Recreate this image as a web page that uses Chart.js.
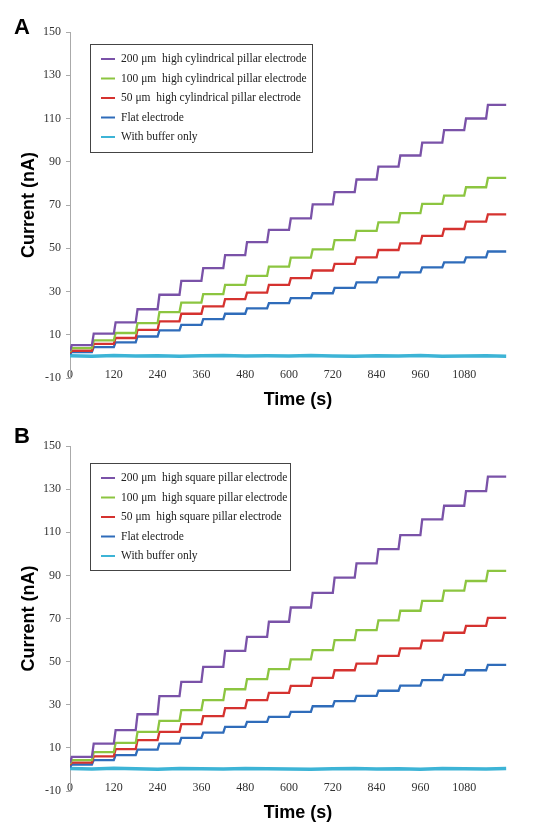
<!DOCTYPE html>
<html><head><meta charset="utf-8">
<script src="https://cdn.jsdelivr.net/npm/chart.js@4/dist/chart.umd.min.js"></script>
<style>
html,body{margin:0;padding:0;background:#fff;width:543px;height:835px;overflow:hidden}
.wrap{position:absolute;left:0;width:543px}
#wa{top:0;height:415px}
#wb{top:415px;height:420px}
canvas{display:block}
</style></head><body>
<div class="wrap" id="wa"><canvas id="ca" width="543" height="415"></canvas></div>
<div class="wrap" id="wb"><canvas id="cb" width="543" height="420"></canvas></div>
<script>
// ---- data ----
const stepTimes = [0,60,120,180,240,300,360,420,480,540,600,660,720,780,840,900,960,1020,1080,1140];
const endTime = 1195;
const xTickLabels = [0,120,240,360,480,600,720,840,960,1080];
const yTickLabels = [-10,10,30,50,70,90,110,130,150];
const colors = ['#7a52a8','#8cc540','#d5322f','#2f6cba','#3db4d6'];

const namesA = ['200 \u03bcm  high cylindrical pillar electrode','100 \u03bcm  high cylindrical pillar electrode','50 \u03bcm  high cylindrical pillar electrode','Flat electrode','With buffer only'];
const namesB = ['200 \u03bcm  high square pillar electrode','100 \u03bcm  high square pillar electrode','50 \u03bcm  high square pillar electrode','Flat electrode','With buffer only'];

const startA = [2.5, 2, 1.5, 1];
const a200 = [5.2,10.5,15.7,21.8,28.5,34.9,40.8,46.8,52.8,58.5,63.8,70.3,76,81.8,87.7,92.9,98.8,104.6,110,116.3];
const a100 = [3.8,7.4,10.8,15.4,20.5,24.9,28.8,33.1,37.2,41.5,45.7,49.5,53.8,58,62,66.2,70.5,74.3,78.2,82.5];
const a50  = [2.6,5.8,8.5,12.3,16.2,19.7,23.1,26.5,29.5,33.1,36.2,39.7,42.8,45.8,49.2,52.3,55.7,58.9,62.3,65.7];
const aFlat= [2,4.3,6.5,9.2,12,14.6,17.2,19.7,22.2,24.6,26.9,29.2,31.7,34.2,36.5,38.8,41.2,43.5,45.8,48.5];
const aBuf = [0.3,0.1,0.4,0.2,0.3,0.1,0.3,0.4,0.2,0.3,0.2,0.4,0.2,0.1,0.3,0.2,0.4,0.1,0.2,0.3,0.1];

const startB = [3, 2.5, 2, 1];
const b200 = [5.8,12,18.2,25.6,34,40.6,47.6,55,61.5,68.5,75.1,81.9,89,95.6,102.2,108.7,116,122.3,129.1,135.8];
const b100 = [4.3,8,12.3,17.4,22.5,27.5,32.1,37.2,41.9,46.5,51,55.3,60,64.6,69.1,73.6,78.2,82.9,87.4,92.1];
const b50  = [3.2,6.1,9.4,13.6,17.4,21,24.7,28.4,32.1,35.5,38.8,42.5,46,49.1,52.7,56.1,59.7,63.4,66.6,70.3];
const bFlat= [2.3,4.3,6.6,9.2,12,14.6,17.1,19.7,22.1,24.4,26.7,29.3,31.7,34.1,36.5,38.9,41.4,43.9,46,48.5];
const bBuf = [0.4,0.2,0.5,0.3,0.1,0.4,0.3,0.2,0.4,0.3,0.2,0.1,0.3,0.4,0.2,0.3,0.1,0.4,0.3,0.2,0.4];

// ---- helpers ----
function stairs(start, levels){
  const pts=[{x:0,y:start}];
  levels.forEach((v,k)=>{
    const t0=stepTimes[k];
    const t1=k+1<stepTimes.length?stepTimes[k+1]:endTime;
    pts.push({x:t0+5,y:v});
    pts.push({x:t1,y:v});
  });
  return pts;
}
function flatLine(vals){
  const times=stepTimes.concat([endTime]);
  return vals.map((v,i)=>({x:times[i],y:v}));
}

const legendPlugin={
  id:'legendBox',
  afterLayout(chart){
    // let x tick labels sit slightly above the plot bottom, as in the reference
    const sx=chart.scales.x;
    sx.top-=10;
  },
  afterDraw(chart,args,opts){
    const ctx=chart.ctx;
    ctx.save();
    ctx.fillStyle='#fff';
    ctx.fillRect(opts.x,opts.y,opts.w,opts.h);
    ctx.strokeStyle='#444';ctx.lineWidth=1;
    ctx.strokeRect(opts.x+0.5,opts.y+0.5,opts.w,opts.h);
    ctx.font='11.5px "Liberation Serif"';
    ctx.textBaseline='middle';
    chart.data.datasets.forEach((ds,i)=>{
      const yy=opts.y+15+i*19.5;
      ctx.strokeStyle=ds.borderColor;ctx.lineWidth=2;
      ctx.beginPath();ctx.moveTo(opts.x+11,yy);ctx.lineTo(opts.x+25,yy);ctx.stroke();
      ctx.fillStyle='#222';
      ctx.fillText(ds.label,opts.x+31,yy);
    });
    ctx.font='bold 22px "Liberation Sans"';
    ctx.fillStyle='#000';
    ctx.textBaseline='middle';
    ctx.textAlign='left';
    ctx.fillText(opts.letter,opts.lx,opts.ly);
    ctx.font='bold 18px "Liberation Sans"';
    ctx.textAlign='center';
    ctx.fillText(opts.xTitle,opts.tx,opts.ty);
    ctx.restore();
  }
};

function makeChart(id,names,series,buf,box,topPad,xH){
  const ds=series.map((pts,i)=>({label:names[i],data:pts,borderColor:colors[i],backgroundColor:colors[i],borderWidth:2.3}));
  ds.push({label:names[4],data:flatLine(buf),borderColor:colors[4],backgroundColor:colors[4],borderWidth:3.5});
  return new Chart(document.getElementById(id),{
    type:'line',
    data:{datasets:ds},
    options:{
      responsive:false,animation:false,
      layout:{padding:{left:0,right:35,top:topPad,bottom:0}},
      elements:{point:{radius:0},line:{tension:0}},
      plugins:{legend:{display:false},tooltip:{enabled:false},legendBox:box},
      scales:{
        x:{type:'linear',min:0,max:1200,
          afterBuildTicks:s=>{s.ticks=xTickLabels.map(v=>({value:v}));},
          afterFit:s=>{s.height=xH;},
          grid:{display:false,drawTicks:false},border:{display:false},
          ticks:{font:{family:'Liberation Serif',size:12},color:'#333',padding:0,maxRotation:0,autoSkip:false,
            callback:v=>String(v)}},
        y:{type:'linear',min:-10,max:150,
          afterBuildTicks:s=>{s.ticks=yTickLabels.map(v=>({value:v}));},
          afterFit:s=>{s.width=70;},
          grid:{display:true,drawOnChartArea:false,drawTicks:true,tickLength:4,color:'#aaa'},
          border:{display:true,color:'#aaa'},
          ticks:{font:{family:'Liberation Serif',size:12},color:'#333',padding:5},
          title:{display:true,text:'Current (nA)',font:{family:'Liberation Sans',size:18,weight:'bold'},color:'#000',padding:{top:18,bottom:0}}}
      }
    },
    plugins:[legendPlugin]
  });
}

makeChart('ca',namesA,[stairs(startA[0],a200),stairs(startA[1],a100),stairs(startA[2],a50),stairs(startA[3],aFlat)],aBuf,
  {x:90,y:44,w:222,h:108,letter:'A',lx:14,ly:28,xTitle:'Time (s)',tx:298,ty:400},32,37);
makeChart('cb',namesB,[stairs(startB[0],b200),stairs(startB[1],b100),stairs(startB[2],b50),stairs(startB[3],bFlat)],bBuf,
  {x:90,y:48,w:200,h:107,letter:'B',lx:14,ly:22,xTitle:'Time (s)',tx:298,ty:398},31,44);
</script>
</body></html>
